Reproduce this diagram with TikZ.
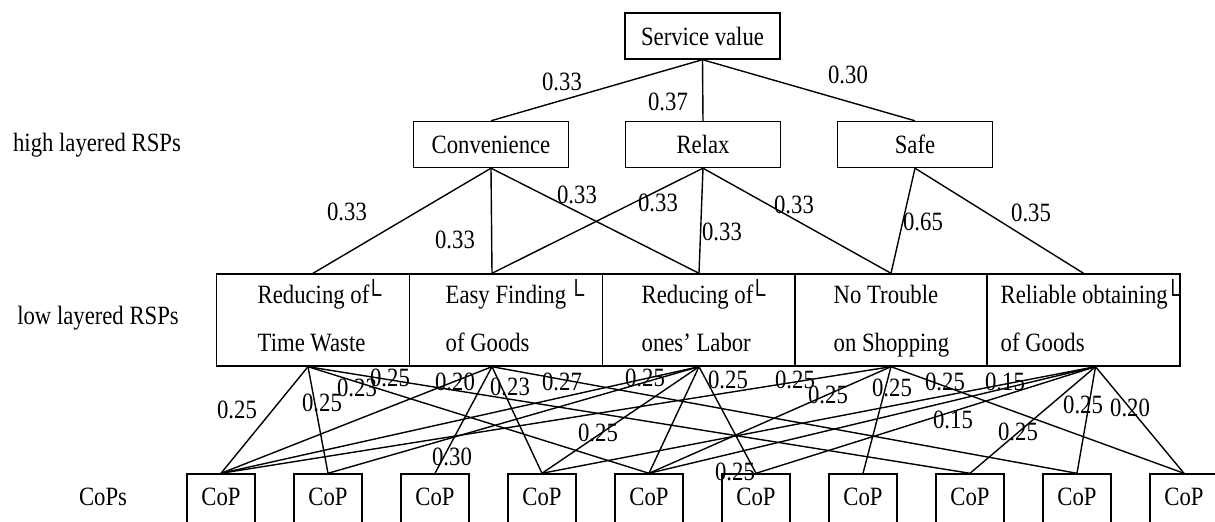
\documentclass[tikz,border=0pt]{standalone}
\usepackage{fontspec}
\setmainfont{Liberation Serif}[FakeStretch=0.86]
\usetikzlibrary{positioning,calc}

% small corner mark after some box texts
\newcommand{\cornermark}{\smash{└}}

\begin{document}
\begin{tikzpicture}[x=0.5pt,y=-0.5pt,
    font=\fontsize{13.2}{16}\selectfont, line width=0.7pt,
    topbox/.style={draw, minimum width=77.5pt, minimum height=23pt, inner sep=0pt},
    lowbox/.style={draw, minimum width=96.5pt, minimum height=46pt, inner sep=0pt},
    copbox/.style={draw, minimum width=34pt, minimum height=28pt, inner sep=0pt, text depth=5pt},
    lowtext/.style={anchor=west, align=left, inner sep=0pt, font=\fontsize{13.2}{24}\selectfont},
    wt/.style={inner sep=0pt}]
    \useasboundingbox (0,0) rectangle (1215,522);
    \clip (0,0) rectangle (1215,522);

    % layer names
    \node (high) at (97,145) {high layered RSPs};
    \node (low) at (98,318) {low layered RSPs};
    \node (cops) at (103,497) {CoPs};

    % service value and high layered RSPs
    \node[topbox] (sv) at (702.5,36) {Service value};
    \node[topbox] (conv) at (491,144.5) {Convenience};
    \node[topbox] (relax) at (703,144.5) {Relax};
    \node[topbox] (safe) at (915,144.5) {Safe};

    % low layered RSPs
    \node[lowbox] (tw) at (313,320) {};
    \node[lowbox] (easy) at (506,320) {};
    \node[lowbox] (labor) at (699,320) {};
    \node[lowbox] (notr) at (891,320) {};
    \node[lowbox] (rel) at (1083.5,320) {};
    \node[lowtext] (twtext) at (257,317.5) {Reducing of\kern-2pt\cornermark\strut\\Time Waste\strut};
    \node[lowtext] (easytext) at (445,317.5) {Easy Finding\kern1pt\cornermark\strut\\of Goods\strut};
    \node[lowtext] (labortext) at (641,317.5) {Reducing of\kern-2pt\cornermark\strut\\ones’ Labor\strut};
    \node[lowtext] (notrtext) at (833,317.5) {No Trouble\strut\\on Shopping\strut};
    \node[lowtext] (reltext) at (1000,317.5) {Reliable obtaining\kern-1.5pt\cornermark\strut\\of Goods\strut};

    % CoPs
    \foreach \i in {1,...,10}
        \node[copbox] (cop\i) at ({221+107*(\i-1)},502) {CoP};

    % attach points off the box middles
    \coordinate (easytop) at ([xshift=-7pt]easy.north);
    \coordinate (easybot) at ([xshift=-7pt]easy.south);
    \coordinate (twbot) at ([xshift=-2.5pt]tw.south);
    \coordinate (relbot) at ([xshift=6pt]rel.south);

    % upper links
    \draw (sv.south) -- (conv.north);
    \draw (sv.south) -- (relax.north);
    \draw (sv.south) -- (safe.north);
    \draw (conv.south) -- (tw.north);
    \draw (conv.south) -- (easytop);
    \draw (conv.south) -- (labor.north);
    \draw (relax.south) -- (easytop);
    \draw (relax.south) -- (labor.north);
    \draw (relax.south) -- (notr.north);
    \draw (safe.south) -- (notr.north);
    \draw (safe.south) -- (rel.north);

    % links down to the CoPs
    \foreach \a/\b in {twbot/1, twbot/2, twbot/5, twbot/8,
                       easybot/1, easybot/3, easybot/4, easybot/9,
                       labor.south/1, labor.south/2, labor.south/4, labor.south/5, labor.south/6,
                       notr.south/1, notr.south/5, notr.south/7, notr.south/10,
                       relbot/4, relbot/5, relbot/6, relbot/8, relbot/9, relbot/10}
        \draw (\a) -- (cop\b.north);

    % weights
    \foreach \n/\x/\y/\t in {1/562/82/0.33, 2/668/102/0.37, 3/848/75/0.30,
                             4/347/212/0.33, 5/455/240/0.33, 6/577/195/0.33,
                             7/658/203/0.33, 8/722/232/0.33, 9/794/205/0.33,
                             10/923/222/0.65, 11/1031/213/0.35,
                             12/237/410/0.25, 13/322/403/0.25, 14/357/388/0.23,
                             15/390/378/0.25, 16/455/382/0.20, 17/510/387/0.23,
                             18/562/382/0.27, 19/452/457/0.30, 20/645/378/0.25,
                             21/598/433/0.25, 22/728/380/0.25, 23/735/472/0.25,
                             24/795/380/0.25, 25/828/395/0.25, 26/892/388/0.25,
                             27/945/382/0.25, 28/1005/382/0.15, 29/953/420/0.15,
                             30/1018/432/0.25, 31/1083/405/0.25, 32/1130/408/0.20}
        \node[wt] (w\n) at (\x,\y) {\t};
\end{tikzpicture}
\end{document}
